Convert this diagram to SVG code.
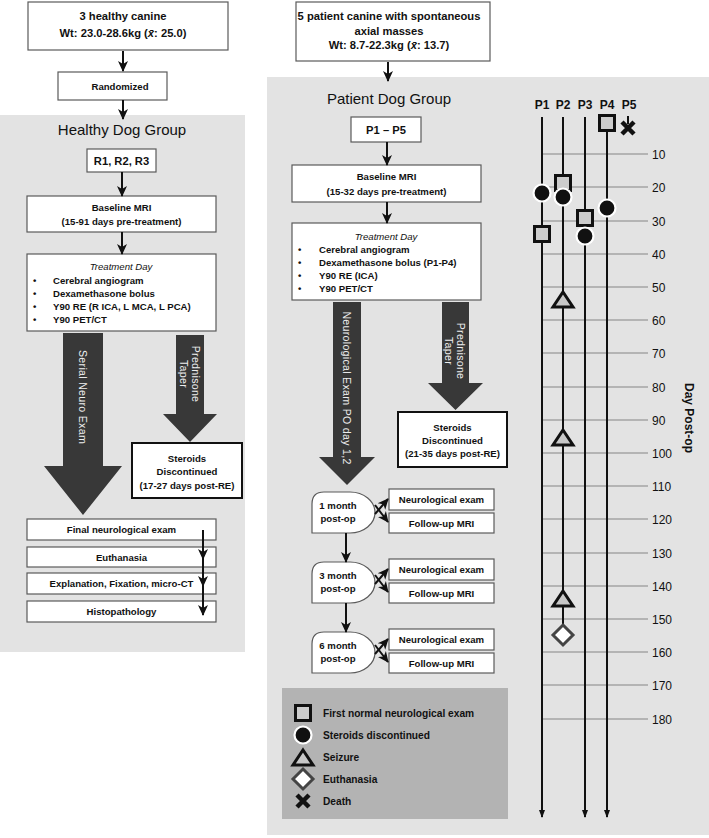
<svg xmlns="http://www.w3.org/2000/svg" width="709" height="838" viewBox="0 0 709 838">
<style>
.bg{fill:#e3e3e3}
.box{fill:#fff;stroke:#5a5a5a;stroke-width:1.2}
.sbox{fill:#fff;stroke:#111;stroke-width:2}
.t{font-family:"Liberation Sans",Arial,sans-serif;font-weight:bold;font-size:9.6px;fill:#111;text-anchor:middle}
.tl{font-family:"Liberation Sans",Arial,sans-serif;font-weight:bold;font-size:9.6px;fill:#111}
.big{font-size:11.2px}
.title{font-family:"Liberation Sans",Arial,sans-serif;font-size:15px;fill:#111;text-anchor:middle}
.it{font-style:italic;font-weight:normal}
.conn{stroke:#111;stroke-width:2;fill:none}
.fat{fill:#383838}
.at{font-family:"Liberation Sans",Arial,sans-serif;font-size:10.6px;fill:#eee;text-anchor:middle;letter-spacing:0.3px}
.grid{stroke:#b4b4b4;stroke-width:2}
.tline{stroke:#111;stroke-width:2;fill:none}
.day{font-family:"Liberation Sans",Arial,sans-serif;font-size:12px;fill:#111}
.pl{font-family:"Liberation Sans",Arial,sans-serif;font-weight:bold;font-size:12px;fill:#111;text-anchor:middle}
.lg{font-family:"Liberation Sans",Arial,sans-serif;font-size:10.2px;fill:#111;font-weight:bold}
</style>
<defs>
<marker id="ah" markerUnits="userSpaceOnUse" markerWidth="12" markerHeight="12" viewBox="0 0 12 12" refX="10" refY="6" orient="auto">
<path d="M0,1 L11,6 L0,11 L3,6 Z" fill="#111"/>
</marker>
<marker id="ahs" markerUnits="userSpaceOnUse" markerWidth="8" markerHeight="8" viewBox="0 0 8 8" refX="7" refY="4" orient="auto">
<path d="M0,1 L8,4 L0,7 Z" fill="#111"/>
</marker>
<g id="sq"><rect x="-7.5" y="-7.5" width="15" height="15" fill="#cdcdcd" stroke="#111" stroke-width="3"/></g>
<g id="ci"><circle r="8.5" fill="#111" stroke="#fff" stroke-width="2.2"/></g>
<g id="tri"><path d="M0,-8 L10,7 L-10,7 Z" fill="#c8c8c8" stroke="#111" stroke-width="3" stroke-linejoin="miter"/></g>
<g id="dia"><path d="M0,-10 L10,0 L0,10 L-10,0 Z" fill="#fff" stroke="#444" stroke-width="3"/></g>
<g id="ex"><path d="M-6,-6 L6,6 M6,-6 L-6,6" stroke="#111" stroke-width="4.5"/></g>
<path id="stage" d="M324,0 H350 A25,20.5 0 0 1 350,41 H312 V12 Q312,0 324,0 Z"/>
</defs>

<!-- backgrounds -->
<rect class="bg" x="0" y="115" width="245" height="537"/>
<rect class="bg" x="267" y="77" width="442" height="758"/>

<!-- Healthy column -->
<g id="healthy-intake">
<rect class="box" x="28" y="2" width="200" height="48"/>
<text class="t big" x="123" y="20">3 healthy canine</text>
<text class="t big" x="123" y="37">Wt: 23.0-28.6kg (<tspan font-style="italic">x̄</tspan>: 25.0)</text>
</g>
<g id="randomized">
<rect class="box" x="58" y="72" width="109" height="28"/>
<text class="t" x="120" y="89.5">Randomized</text>
</g>
<g id="healthy-title"><text class="title" x="122" y="135">Healthy Dog Group</text></g>
<g id="r123">
<rect class="box" x="87" y="149" width="69" height="23"/>
<text class="t big" x="121.5" y="164.5">R1, R2, R3</text>
</g>
<g id="h-baseline">
<rect class="box" x="27" y="196" width="189" height="36"/>
<text class="t" x="121.5" y="211">Baseline MRI</text>
<text class="t" x="121.5" y="225">(15-91 days pre-treatment)</text>
</g>
<g id="h-treatment">
<rect class="box" x="27" y="254" width="189" height="77"/>
<text class="t it" x="121" y="270">Treatment Day</text>
<text class="tl" x="33" y="283.5">•</text><text class="tl" x="53" y="283.5">Cerebral angiogram</text>
<text class="tl" x="33" y="296.5">•</text><text class="tl" x="53" y="296.5">Dexamethasone bolus</text>
<text class="tl" x="33" y="309.5">•</text><text class="tl" x="53" y="309.5">Y90 RE (R ICA, L MCA, L PCA)</text>
<text class="tl" x="33" y="322.5">•</text><text class="tl" x="53" y="322.5">Y90 PET/CT</text>
</g>
<g id="h-serial-arrow">
<path class="fat" d="M63,333 H103 V466 H122 L83,515 L44,466 H63 Z"/>
<text class="at" transform="translate(83,397) rotate(90)" y="4">Serial Neuro Exam</text>
</g>
<g id="h-pred-arrow">
<path class="fat" d="M176,335 H204 V414 H217 L190,442 L163,414 H176 Z"/>
<text class="at" transform="translate(190,374) rotate(90)"><tspan x="0" y="-1.5">Prednisone</tspan><tspan x="0" y="10.5">Taper</tspan></text>
</g>
<g id="h-steroids">
<rect class="sbox" x="132" y="443" width="110" height="55"/>
<text class="t" x="187" y="462">Steroids</text>
<text class="t" x="187" y="475">Discontinued</text>
<text class="t" x="187" y="489">(17-27 days post-RE)</text>
</g>
<g id="h-final">
<rect class="box" x="27" y="519" width="189" height="21"/>
<text class="t" x="121.5" y="533">Final neurological exam</text>
</g>
<g id="h-euth">
<rect class="box" x="27" y="547" width="189" height="20"/>
<text class="t" x="121.5" y="560.5">Euthanasia</text>
</g>
<g id="h-expl">
<rect class="box" x="27" y="573" width="189" height="21"/>
<text class="t" x="121.5" y="587">Explanation, Fixation, micro-CT</text>
</g>
<g id="h-histo">
<rect class="box" x="27" y="601" width="189" height="21"/>
<text class="t" x="121.5" y="615">Histopathology</text>
</g>

<!-- Patient column -->
<g id="patient-intake">
<rect class="box" x="296" y="2" width="194" height="59"/>
<text class="t big" x="389" y="20">5 patient canine with spontaneous</text>
<text class="t big" x="389" y="35">axial masses</text>
<text class="t big" x="389" y="49">Wt: 8.7-22.3kg (<tspan font-style="italic">x̄</tspan>: 13.7)</text>
</g>
<g id="patient-title"><text class="title" x="389" y="104">Patient Dog Group</text></g>
<g id="p15">
<rect class="box" x="351" y="117" width="70" height="25"/>
<text class="t big" x="386" y="133.5">P1 – P5</text>
</g>
<g id="p-baseline">
<rect class="box" x="292" y="165" width="189" height="37"/>
<text class="t" x="386.5" y="180">Baseline MRI</text>
<text class="t" x="386.5" y="195">(15-32 days pre-treatment)</text>
</g>
<g id="p-treatment">
<rect class="box" x="292" y="223" width="189" height="77"/>
<text class="t it" x="386" y="239.5">Treatment Day</text>
<text class="tl" x="298" y="252.5">•</text><text class="tl" x="319" y="252.5">Cerebral angiogram</text>
<text class="tl" x="298" y="265.5">•</text><text class="tl" x="319" y="265.5">Dexamethasone bolus (P1-P4)</text>
<text class="tl" x="298" y="278.5">•</text><text class="tl" x="319" y="278.5">Y90 RE (ICA)</text>
<text class="tl" x="298" y="291.5">•</text><text class="tl" x="319" y="291.5">Y90 PET/CT</text>
</g>
<g id="p-neuro-arrow">
<path class="fat" d="M333,302 H361 V457 H375 L347,485 L319,457 H333 Z"/>
<text class="at" transform="translate(347,388) rotate(90)" y="4">Neurological Exam PO day 1,2</text>
</g>
<g id="p-pred-arrow">
<path class="fat" d="M442,302 H469 V383 H483 L455.5,410 L428,383 H442 Z"/>
<text class="at" transform="translate(455.5,351) rotate(90)"><tspan x="0" y="-1.5">Prednisone</tspan><tspan x="0" y="10.5">Taper</tspan></text>
</g>
<g id="p-steroids">
<rect class="sbox" x="398" y="412" width="109" height="55"/>
<text class="t" x="452.5" y="430.5">Steroids</text>
<text class="t" x="452.5" y="443.5">Discontinued</text>
<text class="t" x="452.5" y="457">(21-35 days post-RE)</text>
</g>

<g id="m1">
<use href="#stage" y="492" fill="#fff" stroke="#5a5a5a" stroke-width="1.2"/>
<text class="t" x="338" y="508.5">1 month</text>
<text class="t" x="338" y="521.5">post-op</text>
</g>
<g id="m1-neuro"><rect class="box" x="389" y="489" width="105" height="21"/><text class="t" x="441.5" y="503">Neurological exam</text></g>
<g id="m1-mri"><rect class="box" x="389" y="513" width="105" height="20"/><text class="t" x="441.5" y="526.5">Follow-up MRI</text></g>
<g id="m3">
<use href="#stage" y="562" fill="#fff" stroke="#5a5a5a" stroke-width="1.2"/>
<text class="t" x="338" y="578.5">3 month</text>
<text class="t" x="338" y="591.5">post-op</text>
</g>
<g id="m3-neuro"><rect class="box" x="389" y="559" width="105" height="21"/><text class="t" x="441.5" y="573">Neurological exam</text></g>
<g id="m3-mri"><rect class="box" x="389" y="583" width="105" height="20"/><text class="t" x="441.5" y="596.5">Follow-up MRI</text></g>
<g id="m6">
<use href="#stage" y="632" fill="#fff" stroke="#5a5a5a" stroke-width="1.2"/>
<text class="t" x="338" y="648.5">6 month</text>
<text class="t" x="338" y="661.5">post-op</text>
</g>
<g id="m6-neuro"><rect class="box" x="389" y="629" width="105" height="21"/><text class="t" x="441.5" y="643">Neurological exam</text></g>
<g id="m6-mri"><rect class="box" x="389" y="653" width="105" height="20"/><text class="t" x="441.5" y="666.5">Follow-up MRI</text></g>

<!-- Legend -->
<g id="legend">
<rect x="282" y="688" width="226" height="131" fill="#b3b3b3"/>
<use href="#sq" x="303" y="713"/>
<use href="#ci" x="303" y="735"/>
<use href="#tri" x="303" y="758"/>
<use href="#dia" x="303" y="779"/>
<use href="#ex" x="303" y="801"/>
<text class="lg" x="323" y="717">First normal neurological exam</text>
<text class="lg" x="323" y="739">Steroids discontinued</text>
<text class="lg" x="323" y="761">Seizure</text>
<text class="lg" x="323" y="783">Euthanasia</text>
<text class="lg" x="323" y="805">Death</text>
</g>

<!-- Connectors -->
<g id="connectors">
<line class="conn" x1="123" y1="51" x2="123" y2="71" marker-end="url(#ah)"/>
<line class="conn" x1="123" y1="100" x2="123" y2="119" marker-end="url(#ah)"/>
<line class="conn" x1="122" y1="172" x2="122" y2="196" marker-end="url(#ah)"/>
<line class="conn" x1="122" y1="232" x2="122" y2="254" marker-end="url(#ah)"/>
<line class="conn" x1="203" y1="530" x2="203" y2="559" marker-end="url(#ah)"/>
<line class="conn" x1="203" y1="558" x2="203" y2="586" marker-end="url(#ah)"/>
<line class="conn" x1="203" y1="585" x2="203" y2="615" marker-end="url(#ah)"/>
<line class="conn" x1="388" y1="62" x2="388" y2="81" marker-end="url(#ah)"/>
<line class="conn" x1="387" y1="142" x2="387" y2="165" marker-end="url(#ah)"/>
<line class="conn" x1="387" y1="202" x2="387" y2="223" marker-end="url(#ah)"/>
<line class="conn" x1="346" y1="533" x2="346" y2="562" marker-end="url(#ah)"/>
<line class="conn" x1="346" y1="603" x2="346" y2="632" marker-end="url(#ah)"/>
<line class="conn" x1="375" y1="514" x2="388" y2="499" marker-end="url(#ah)"/>
<line class="conn" x1="375" y1="505" x2="388" y2="522" marker-end="url(#ah)"/>
<line class="conn" x1="375" y1="584" x2="388" y2="569" marker-end="url(#ah)"/>
<line class="conn" x1="375" y1="575" x2="388" y2="592" marker-end="url(#ah)"/>
<line class="conn" x1="375" y1="654" x2="388" y2="639" marker-end="url(#ah)"/>
<line class="conn" x1="375" y1="645" x2="388" y2="662" marker-end="url(#ah)"/>
</g>

<!-- Timeline -->
<g id="timeline">
<g id="gridlines">
<line class="grid" x1="542" y1="154" x2="648" y2="154"/>
<line class="grid" x1="542" y1="187" x2="648" y2="187"/>
<line class="grid" x1="542" y1="221" x2="648" y2="221"/>
<line class="grid" x1="542" y1="254" x2="648" y2="254"/>
<line class="grid" x1="542" y1="287" x2="648" y2="287"/>
<line class="grid" x1="542" y1="320" x2="648" y2="320"/>
<line class="grid" x1="542" y1="353" x2="648" y2="353"/>
<line class="grid" x1="542" y1="387" x2="648" y2="387"/>
<line class="grid" x1="542" y1="420" x2="648" y2="420"/>
<line class="grid" x1="542" y1="453" x2="648" y2="453"/>
<line class="grid" x1="542" y1="486" x2="648" y2="486"/>
<line class="grid" x1="542" y1="519" x2="648" y2="519"/>
<line class="grid" x1="542" y1="553" x2="648" y2="553"/>
<line class="grid" x1="542" y1="586" x2="648" y2="586"/>
<line class="grid" x1="542" y1="619" x2="648" y2="619"/>
<line class="grid" x1="542" y1="652" x2="648" y2="652"/>
<line class="grid" x1="542" y1="685" x2="648" y2="685"/>
<line class="grid" x1="542" y1="719" x2="648" y2="719"/>
</g>
<g id="daylabels">
<text class="day" x="652" y="158.5">10</text>
<text class="day" x="652" y="191.5">20</text>
<text class="day" x="652" y="225.5">30</text>
<text class="day" x="652" y="258.5">40</text>
<text class="day" x="652" y="291.5">50</text>
<text class="day" x="652" y="324.5">60</text>
<text class="day" x="652" y="357.5">70</text>
<text class="day" x="652" y="391.5">80</text>
<text class="day" x="652" y="424.5">90</text>
<text class="day" x="652" y="457.5">100</text>
<text class="day" x="652" y="490.5">110</text>
<text class="day" x="652" y="523.5">120</text>
<text class="day" x="652" y="557.5">130</text>
<text class="day" x="652" y="590.5">140</text>
<text class="day" x="652" y="623.5">150</text>
<text class="day" x="652" y="656.5">160</text>
<text class="day" x="652" y="689.5">170</text>
<text class="day" x="652" y="723.5">180</text>
<text class="day" font-weight="bold" transform="translate(685,418) rotate(90)" text-anchor="middle">Day Post-op</text>
</g>
<text class="pl" x="542" y="109">P1</text>
<text class="pl" x="563" y="109">P2</text>
<text class="pl" x="585" y="109">P3</text>
<text class="pl" x="607" y="109">P4</text>
<text class="pl" x="629" y="109">P5</text>
<line class="tline" x1="542" y1="117" x2="542" y2="817" marker-end="url(#ahs)"/>
<line class="tline" x1="563" y1="117" x2="563" y2="628"/>
<line class="tline" x1="585" y1="117" x2="585" y2="817" marker-end="url(#ahs)"/>
<line class="tline" x1="607" y1="123" x2="607" y2="817" marker-end="url(#ahs)"/>
<line class="tline" x1="628" y1="116" x2="628" y2="124"/>
<use href="#ci" x="542" y="193"/>
<use href="#sq" x="542" y="234"/>
<use href="#sq" x="563" y="183"/>
<use href="#ci" x="563" y="197"/>
<use href="#tri" x="563" y="300"/>
<use href="#tri" x="563" y="438"/>
<use href="#tri" x="563" y="599"/>
<use href="#dia" x="563" y="635"/>
<use href="#sq" x="585" y="218"/>
<use href="#ci" x="585" y="236"/>
<use href="#sq" x="607" y="123"/>
<use href="#ci" x="607" y="208"/>
<use href="#ex" x="628" y="128"/>
</g>
</svg>
